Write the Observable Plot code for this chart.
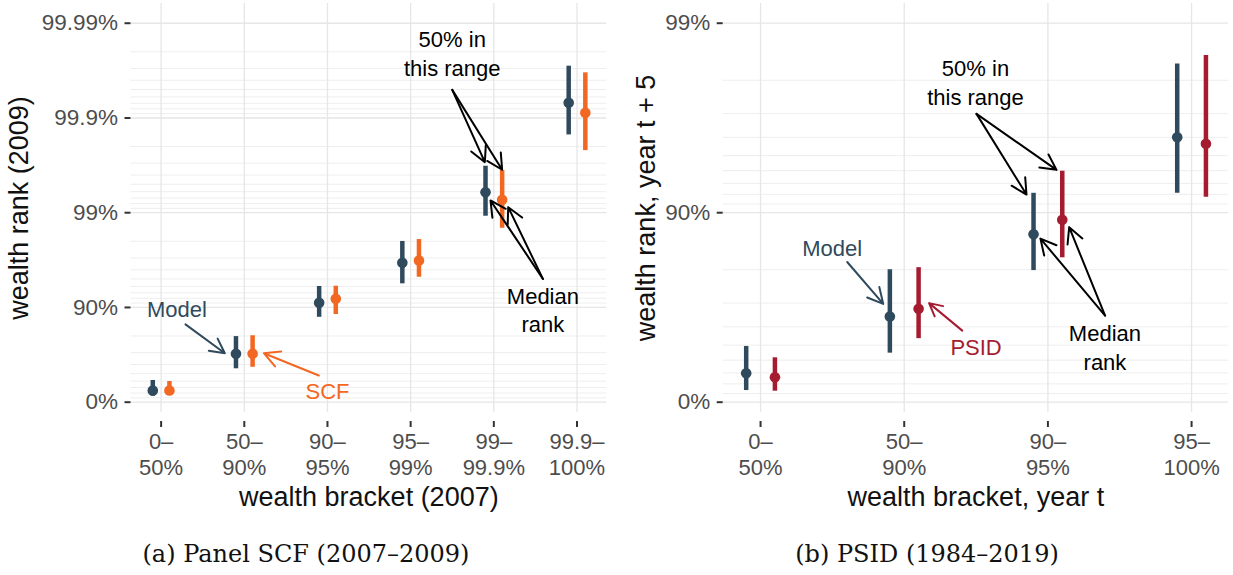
<!DOCTYPE html>
<html>
<head>
<meta charset="utf-8">
<script src="https://cdn.jsdelivr.net/npm/d3@7"></script>
<script src="https://cdn.jsdelivr.net/npm/@observablehq/plot@0.6"></script>
<style>
  body { margin: 0; background: #fff; }
  #root { position: relative; width: 1233px; height: 575px; overflow: hidden; background: #fff; }
  .panel { position: absolute; top: 0; }
  .cap { position: absolute; font-family: "DejaVu Serif", serif; font-size: 24px; color: #111;
         transform: translate(-50%, -50%); white-space: nowrap; }
</style>
</head>
<body>
<div id="root">
  <div id="pa" class="panel" style="left:0px"></div>
  <div id="pb" class="panel" style="left:616px"></div>
  <div class="cap" style="left:306px; top:554px">(a) Panel SCF (2007–2009)</div>
  <div class="cap" style="left:927px; top:554px">(b) PSID (1984–2019)</div>
</div>
<script>
// ---------------- Panel (a): Panel SCF 2007–2009 ----------------
const bracketsA = ["0–\n50%", "50–\n90%", "90–\n95%", "95–\n99%", "99–\n99.9%", "99.9–\n100%"];
// wealth rank in 2009 (percentile): median and interquartile range
const modelMedA = [24.8, 69.2, 91.07, 96.62, 99.392, 99.9308];
const modelLoA  = [13.5, 55.6, 87.3, 94.37, 98.911, 99.849];
const modelHiA  = [41.0, 79.7, 93.99, 97.99, 99.677, 99.9716];
const scfMedA   = [24.8, 69.2, 91.89, 96.81, 99.269, 99.9117];
const scfLoA    = [15.0, 57.2, 88.14, 95.20, 98.541, 99.779];
const scfHiA    = [39.5, 80.1, 94.03, 98.08, 99.641, 99.9666];
const rankTicksA  = [0, 90, 99, 99.9, 99.99];
const rankLabelsA = ["0%", "90%", "99%", "99.9%", "99.99%"];
const notesA = [
  {text: "Model", series: "Model", x: 0.19, y: 89.95},
  {text: "SCF", series: "Data", x: 2.0, y: 26.0},
  {text: "50% in\nthis range", series: "note", x: 3.5, y: 99.9796},
  {text: "Median\nrank", series: "note", x: 4.59, y: 89.67}
];
const arrowsA = [
  {series: "Model", x1: 0.293, y1: 84.9, x2: 0.766, y2: 69.6},
  {series: "Data", x1: 1.896, y1: 47.7, x2: 1.235, y2: 69.6},
  {series: "note", x1: 3.5, y1: 99.9495, x2: 3.892, y2: 99.707},
  {series: "note", x1: 3.5, y1: 99.9495, x2: 4.1, y2: 99.648},
  {series: "note", x1: 4.59, y1: 95.01, x2: 3.96, y2: 99.257},
  {series: "note", x1: 4.59, y1: 95.01, x2: 4.173, y2: 99.125}
];

// ---------------- Panel (b): PSID 1984–2019 ----------------
const bracketsB = ["0–\n50%", "50–\n90%", "90–\n95%", "95–\n100%"];
const modelMedB = [29.7, 64.7, 87.0, 96.0];
const modelLoB  = [13.2, 44.9, 79.8, 92.1];
const modelHiB  = [49.2, 80.0, 92.1, 98.36];
const psidMedB  = [26.2, 67.9, 89.1, 95.67];
const psidLoB   = [12.5, 53.8, 82.7, 91.72];
const psidHiB   = [41.7, 80.5, 93.96, 98.52];
const rankTicksB  = [0, 90, 99];
const rankLabelsB = ["0%", "90%", "99%"];
const notesB = [
  {text: "Model", series: "Model", x: 0.499, y: 84.8},
  {text: "PSID", series: "Data", x: 1.5, y: 49.8},
  {text: "50% in\nthis range", series: "note", x: 1.496, y: 97.98},
  {text: "Median\nrank", series: "note", x: 2.397, y: 49.1}
];
const arrowsB = [
  {series: "Model", x1: 0.603, y1: 81.8, x2: 0.854, y2: 69.7},
  {series: "Data", x1: 1.404, y1: 58.1, x2: 1.173, y2: 70.0},
  {series: "note", x1: 1.503, y1: 96.99, x2: 1.851, y2: 91.98},
  {series: "note", x1: 1.503, y1: 96.99, x2: 2.06, y2: 94.06},
  {series: "note", x1: 2.398, y1: 65.1, x2: 1.948, y2: 86.3},
  {series: "note", x1: 2.398, y1: 65.1, x2: 2.148, y2: 88.07}
];

// ---------------- drawing ----------------
const NAVY = "#2f4a5d";
const SANS = "'Liberation Sans', Arial, Helvetica, sans-serif";
const topShare = p => 1 - p / 100;   // share of households above a given percentile rank

function buildRows(brackets, med1, lo1, hi1, med2, lo2, hi2) {
  return brackets.flatMap((b, i) => [
    {i, series: "Model", med: med1[i], lo: lo1[i], hi: hi1[i]},
    {i, series: "Data", med: med2[i], lo: lo2[i], hi: hi2[i]}
  ]);
}

function panel(cfg) {
  const rows = buildRows(cfg.brackets, ...cfg.series);
  const dodge = d => d.i + (d.series === "Model" ? -0.1 : 0.1);
  const majors = cfg.ticks.map(topShare);
  const minors = d3.scaleLog().domain([topShare(cfg.ticks[cfg.ticks.length - 1]), 1]).ticks()
    .filter(v => Math.abs(Math.log10(v) - Math.round(Math.log10(v))) > 1e-6);
  const labelOf = new Map(majors.map((v, k) => [v, cfg.tickLabels[k]]));
  const idx = d3.range(cfg.brackets.length);
  return Plot.plot({
    width: cfg.width,
    height: 520,
    marginTop: 3,
    marginBottom: 108,
    marginLeft: cfg.marginLeft,
    marginRight: cfg.marginRight,
    style: {fontFamily: SANS, background: "transparent", overflow: "visible"},
    x: {type: "linear", domain: cfg.xDomain, axis: null},
    y: {type: "log", domain: cfg.yDomain.map(topShare), axis: null},
    color: {domain: ["Model", "Data", "note"], range: [NAVY, cfg.dataColor, "#000000"]},
    marks: [
      Plot.gridY(minors, {stroke: "#ececec", strokeOpacity: 1, strokeWidth: 0.9}),
      Plot.gridY(majors, {stroke: "#e6e6e6", strokeOpacity: 1, strokeWidth: 1.3}),
      Plot.gridX(idx, {stroke: "#e6e6e6", strokeOpacity: 1, strokeWidth: 1.3}),
      Plot.axisY(majors, {
        tickFormat: v => labelOf.get(v), tickSize: 6, tickPadding: 7, fontSize: 22.5,
        fill: "#4d4d4d", stroke: "#333333", strokeWidth: 2, label: null
      }),
      Plot.axisX(idx, {
        tickFormat: i => cfg.brackets[i], tickSize: 6, tickPadding: 4, fontSize: 22,
        lineHeight: 1.15, dy: 9, fill: "#4d4d4d", stroke: "#333333", strokeWidth: 2, label: null
      }),
      Plot.ruleX(rows, {x: dodge, y1: d => topShare(d.lo), y2: d => topShare(d.hi), stroke: "series", strokeWidth: 4.5}),
      Plot.dot(rows, {x: dodge, y: d => topShare(d.med), fill: "series", r: 5.3}),
      Plot.arrow(cfg.arrows, {
        x1: "x1", y1: d => topShare(d.y1), x2: "x2", y2: d => topShare(d.y2),
        stroke: "series", strokeWidth: 2, headLength: 13, headAngle: 55
      }),
      Plot.text(cfg.notes, {
        x: "x", y: d => topShare(d.y), text: "text", fill: "series",
        fontSize: 22, lineHeight: 1.3, textAnchor: "middle", lineAnchor: "middle"
      }),
      Plot.text([cfg.xTitle], {
        frameAnchor: "bottom", dy: 85, fontSize: 27, fill: "#111",
        textAnchor: "middle", lineAnchor: "middle"
      }),
      Plot.text([cfg.yTitle], {
        frameAnchor: "left", rotate: -90, dx: cfg.yTitleDx, fontSize: 27, fill: "#111",
        textAnchor: "middle", lineAnchor: "middle"
      })
    ]
  });
}

document.getElementById("pa").append(panel({
  brackets: bracketsA,
  series: [modelMedA, modelLoA, modelHiA, scfMedA, scfLoA, scfHiA],
  ticks: rankTicksA, tickLabels: rankLabelsA,
  notes: notesA, arrows: arrowsA,
  dataColor: "#f26722",
  width: 616, marginLeft: 130.5, marginRight: 9.8,
  xDomain: [-0.362, 5.357], yDomain: [-28.46, 99.99381],
  xTitle: "wealth bracket (2007)", yTitle: "wealth rank (2009)", yTitleDx: -112
}));

document.getElementById("pb").append(panel({
  brackets: bracketsB,
  series: [modelMedB, modelLoB, modelHiB, psidMedB, psidLoB, psidHiB],
  ticks: rankTicksB, tickLabels: rankLabelsB,
  notes: notesB, arrows: arrowsB,
  dataColor: "#a51c30",
  width: 617, marginLeft: 106.7, marginRight: 5,
  xDomain: [-0.26, 3.257], yDomain: [-13.34, 99.213],
  xTitle: "wealth bracket, year t", yTitle: "wealth rank, year t + 5", yTitleDx: -77
}));
</script>
</body>
</html>
